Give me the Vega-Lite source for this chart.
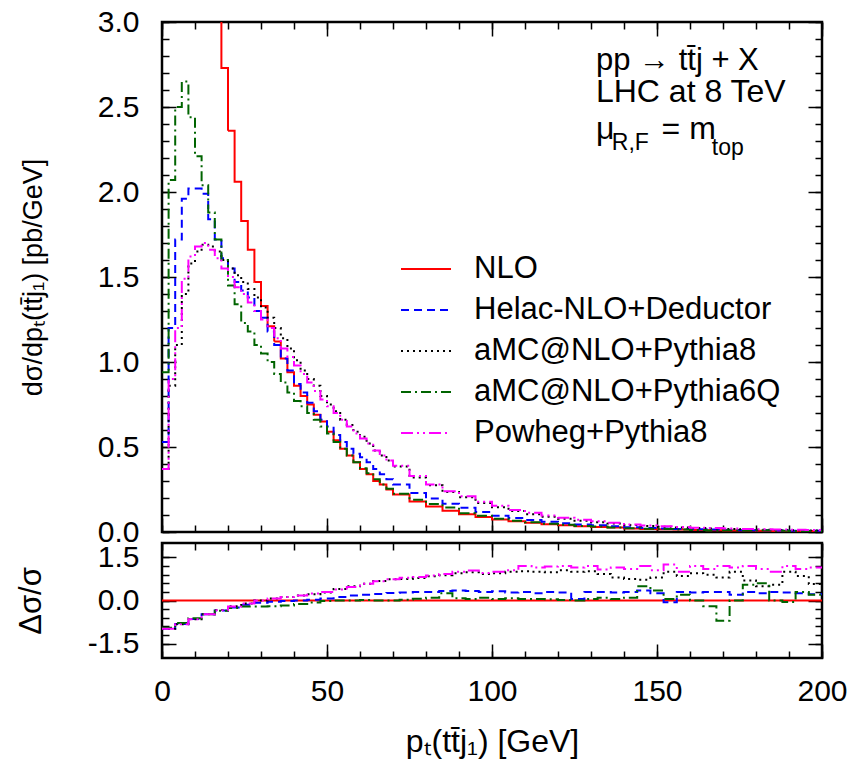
{
  "$schema": "https://vega.github.io/schema/vega-lite/v6.json",
  "padding": {"left": 14, "top": 5, "right": 5, "bottom": 0},
  "spacing": 11,
  "bounds": "flush",
  "config": {
    "font": "Liberation Sans",
    "view": {"stroke": "black", "strokeWidth": 2.5},
    "axis": {"domain": false, "grid": false, "tickColor": "black", "tickWidth": 1.5, "labelColor": "black", "labelFontSize": 30, "labelFont": "Liberation Sans", "titleFont": "Liberation Sans", "titleFontSize": 31, "titleFontWeight": "normal", "titleColor": "black", "labelFlush": false},
    "legend": {"labelFont": "Liberation Sans", "labelFontSize": 31, "labelColor": "black", "symbolType": "stroke", "symbolSize": 2500, "symbolStrokeWidth": 2, "labelOffset": 22, "rowPadding": 0, "padding": 0, "labelLimit": 600}
  },
  "datasets": {
    "main": [
      {"x":0,"NLO":null,"Helac-NLO+Deductor":0.53,"aMC@NLO+Pythia8":0.37,"aMC@NLO+Pythia6Q":0.94,"Powheg+Pythia8":0.37},
      {"x":2,"NLO":null,"Helac-NLO+Deductor":1.20,"aMC@NLO+Pythia8":0.86,"aMC@NLO+Pythia6Q":2.07,"Powheg+Pythia8":0.90},
      {"x":4,"NLO":null,"Helac-NLO+Deductor":1.72,"aMC@NLO+Pythia8":1.10,"aMC@NLO+Pythia6Q":2.50,"Powheg+Pythia8":1.20},
      {"x":6,"NLO":null,"Helac-NLO+Deductor":1.96,"aMC@NLO+Pythia8":1.40,"aMC@NLO+Pythia6Q":2.65,"Powheg+Pythia8":1.49},
      {"x":8,"NLO":null,"Helac-NLO+Deductor":2.02,"aMC@NLO+Pythia8":1.58,"aMC@NLO+Pythia6Q":2.44,"Powheg+Pythia8":1.62},
      {"x":10,"NLO":null,"Helac-NLO+Deductor":2.02,"aMC@NLO+Pythia8":1.65,"aMC@NLO+Pythia6Q":2.21,"Powheg+Pythia8":1.68},
      {"x":12,"NLO":null,"Helac-NLO+Deductor":1.99,"aMC@NLO+Pythia8":1.69,"aMC@NLO+Pythia6Q":2.04,"Powheg+Pythia8":1.70},
      {"x":14,"NLO":null,"Helac-NLO+Deductor":1.84,"aMC@NLO+Pythia8":1.68,"aMC@NLO+Pythia6Q":1.88,"Powheg+Pythia8":1.66},
      {"x":16,"NLO":4.0,"Helac-NLO+Deductor":1.72,"aMC@NLO+Pythia8":1.65,"aMC@NLO+Pythia6Q":1.72,"Powheg+Pythia8":1.61},
      {"x":18,"NLO":2.73,"Helac-NLO+Deductor":1.61,"aMC@NLO+Pythia8":1.60,"aMC@NLO+Pythia6Q":1.60,"Powheg+Pythia8":1.55},
      {"x":20,"NLO":2.36,"Helac-NLO+Deductor":1.55,"aMC@NLO+Pythia8":1.55,"aMC@NLO+Pythia6Q":1.45,"Powheg+Pythia8":1.50},
      {"x":22,"NLO":2.06,"Helac-NLO+Deductor":1.47,"aMC@NLO+Pythia8":1.51,"aMC@NLO+Pythia6Q":1.34,"Powheg+Pythia8":1.44},
      {"x":24,"NLO":1.83,"Helac-NLO+Deductor":1.42,"aMC@NLO+Pythia8":1.47,"aMC@NLO+Pythia6Q":1.23,"Powheg+Pythia8":1.40},
      {"x":26,"NLO":1.66,"Helac-NLO+Deductor":1.38,"aMC@NLO+Pythia8":1.43,"aMC@NLO+Pythia6Q":1.18,"Powheg+Pythia8":1.35},
      {"x":28,"NLO":1.47,"Helac-NLO+Deductor":1.30,"aMC@NLO+Pythia8":1.38,"aMC@NLO+Pythia6Q":1.10,"Powheg+Pythia8":1.30},
      {"x":30,"NLO":1.33,"Helac-NLO+Deductor":1.26,"aMC@NLO+Pythia8":1.32,"aMC@NLO+Pythia6Q":1.05,"Powheg+Pythia8":1.25},
      {"x":32,"NLO":1.21,"Helac-NLO+Deductor":1.18,"aMC@NLO+Pythia8":1.26,"aMC@NLO+Pythia6Q":1.00,"Powheg+Pythia8":1.20},
      {"x":34,"NLO":1.12,"Helac-NLO+Deductor":1.10,"aMC@NLO+Pythia8":1.20,"aMC@NLO+Pythia6Q":0.93,"Powheg+Pythia8":1.14},
      {"x":36,"NLO":1.02,"Helac-NLO+Deductor":1.02,"aMC@NLO+Pythia8":1.14,"aMC@NLO+Pythia6Q":0.88,"Powheg+Pythia8":1.08},
      {"x":38,"NLO":0.94,"Helac-NLO+Deductor":0.95,"aMC@NLO+Pythia8":1.08,"aMC@NLO+Pythia6Q":0.82,"Powheg+Pythia8":1.03},
      {"x":40,"NLO":0.86,"Helac-NLO+Deductor":0.87,"aMC@NLO+Pythia8":1.01,"aMC@NLO+Pythia6Q":0.77,"Powheg+Pythia8":0.98},
      {"x":42,"NLO":0.80,"Helac-NLO+Deductor":0.82,"aMC@NLO+Pythia8":0.95,"aMC@NLO+Pythia6Q":0.74,"Powheg+Pythia8":0.93},
      {"x":44,"NLO":0.75,"Helac-NLO+Deductor":0.76,"aMC@NLO+Pythia8":0.90,"aMC@NLO+Pythia6Q":0.70,"Powheg+Pythia8":0.88},
      {"x":46,"NLO":0.69,"Helac-NLO+Deductor":0.71,"aMC@NLO+Pythia8":0.86,"aMC@NLO+Pythia6Q":0.66,"Powheg+Pythia8":0.83},
      {"x":48,"NLO":0.65,"Helac-NLO+Deductor":0.66,"aMC@NLO+Pythia8":0.80,"aMC@NLO+Pythia6Q":0.62,"Powheg+Pythia8":0.78},
      {"x":50,"NLO":0.59,"Helac-NLO+Deductor":0.62,"aMC@NLO+Pythia8":0.75,"aMC@NLO+Pythia6Q":0.58,"Powheg+Pythia8":0.74},
      {"x":52,"NLO":0.54,"Helac-NLO+Deductor":0.57,"aMC@NLO+Pythia8":0.71,"aMC@NLO+Pythia6Q":0.53,"Powheg+Pythia8":0.70},
      {"x":54,"NLO":0.49,"Helac-NLO+Deductor":0.53,"aMC@NLO+Pythia8":0.66,"aMC@NLO+Pythia6Q":0.49,"Powheg+Pythia8":0.66},
      {"x":56,"NLO":0.45,"Helac-NLO+Deductor":0.49,"aMC@NLO+Pythia8":0.63,"aMC@NLO+Pythia6Q":0.45,"Powheg+Pythia8":0.62},
      {"x":58,"NLO":0.41,"Helac-NLO+Deductor":0.46,"aMC@NLO+Pythia8":0.59,"aMC@NLO+Pythia6Q":0.41,"Powheg+Pythia8":0.58},
      {"x":60,"NLO":0.37,"Helac-NLO+Deductor":0.44,"aMC@NLO+Pythia8":0.56,"aMC@NLO+Pythia6Q":0.375,"Powheg+Pythia8":0.55},
      {"x":62,"NLO":0.34,"Helac-NLO+Deductor":0.41,"aMC@NLO+Pythia8":0.52,"aMC@NLO+Pythia6Q":0.345,"Powheg+Pythia8":0.52},
      {"x":64,"NLO":0.30,"Helac-NLO+Deductor":0.37,"aMC@NLO+Pythia8":0.48,"aMC@NLO+Pythia6Q":0.31,"Powheg+Pythia8":0.48},
      {"x":66,"NLO":0.28,"Helac-NLO+Deductor":0.34,"aMC@NLO+Pythia8":0.45,"aMC@NLO+Pythia6Q":0.28,"Powheg+Pythia8":0.45},
      {"x":68,"NLO":0.25,"Helac-NLO+Deductor":0.31,"aMC@NLO+Pythia8":0.42,"aMC@NLO+Pythia6Q":0.255,"Powheg+Pythia8":0.42},
      {"x":70,"NLO":0.22,"Helac-NLO+Deductor":0.28,"aMC@NLO+Pythia8":0.385,"aMC@NLO+Pythia6Q":0.225,"Powheg+Pythia8":0.39},
      {"x":75,"NLO":0.18,"Helac-NLO+Deductor":0.23,"aMC@NLO+Pythia8":0.32,"aMC@NLO+Pythia6Q":0.19,"Powheg+Pythia8":0.33},
      {"x":80,"NLO":0.15,"Helac-NLO+Deductor":0.197,"aMC@NLO+Pythia8":0.275,"aMC@NLO+Pythia6Q":0.165,"Powheg+Pythia8":0.28},
      {"x":85,"NLO":0.125,"Helac-NLO+Deductor":0.166,"aMC@NLO+Pythia8":0.235,"aMC@NLO+Pythia6Q":0.144,"Powheg+Pythia8":0.24},
      {"x":90,"NLO":0.105,"Helac-NLO+Deductor":0.142,"aMC@NLO+Pythia8":0.205,"aMC@NLO+Pythia6Q":0.11,"Powheg+Pythia8":0.21},
      {"x":95,"NLO":0.088,"Helac-NLO+Deductor":0.117,"aMC@NLO+Pythia8":0.17,"aMC@NLO+Pythia6Q":0.095,"Powheg+Pythia8":0.178},
      {"x":100,"NLO":0.074,"Helac-NLO+Deductor":0.096,"aMC@NLO+Pythia8":0.145,"aMC@NLO+Pythia6Q":0.078,"Powheg+Pythia8":0.155},
      {"x":105,"NLO":0.063,"Helac-NLO+Deductor":0.082,"aMC@NLO+Pythia8":0.123,"aMC@NLO+Pythia6Q":0.066,"Powheg+Pythia8":0.13},
      {"x":110,"NLO":0.054,"Helac-NLO+Deductor":0.07,"aMC@NLO+Pythia8":0.105,"aMC@NLO+Pythia6Q":0.057,"Powheg+Pythia8":0.113},
      {"x":115,"NLO":0.046,"Helac-NLO+Deductor":0.06,"aMC@NLO+Pythia8":0.09,"aMC@NLO+Pythia6Q":0.048,"Powheg+Pythia8":0.097},
      {"x":120,"NLO":0.040,"Helac-NLO+Deductor":0.052,"aMC@NLO+Pythia8":0.078,"aMC@NLO+Pythia6Q":0.043,"Powheg+Pythia8":0.084},
      {"x":125,"NLO":0.034,"Helac-NLO+Deductor":0.044,"aMC@NLO+Pythia8":0.066,"aMC@NLO+Pythia6Q":0.036,"Powheg+Pythia8":0.072},
      {"x":130,"NLO":0.030,"Helac-NLO+Deductor":0.039,"aMC@NLO+Pythia8":0.058,"aMC@NLO+Pythia6Q":0.032,"Powheg+Pythia8":0.063},
      {"x":135,"NLO":0.026,"Helac-NLO+Deductor":0.034,"aMC@NLO+Pythia8":0.050,"aMC@NLO+Pythia6Q":0.027,"Powheg+Pythia8":0.055},
      {"x":140,"NLO":0.021,"Helac-NLO+Deductor":0.028,"aMC@NLO+Pythia8":0.041,"aMC@NLO+Pythia6Q":0.022,"Powheg+Pythia8":0.044},
      {"x":145,"NLO":0.018,"Helac-NLO+Deductor":0.024,"aMC@NLO+Pythia8":0.035,"aMC@NLO+Pythia6Q":0.019,"Powheg+Pythia8":0.038},
      {"x":150,"NLO":0.016,"Helac-NLO+Deductor":0.021,"aMC@NLO+Pythia8":0.031,"aMC@NLO+Pythia6Q":0.017,"Powheg+Pythia8":0.034},
      {"x":155,"NLO":0.014,"Helac-NLO+Deductor":0.018,"aMC@NLO+Pythia8":0.027,"aMC@NLO+Pythia6Q":0.015,"Powheg+Pythia8":0.030},
      {"x":160,"NLO":0.012,"Helac-NLO+Deductor":0.016,"aMC@NLO+Pythia8":0.023,"aMC@NLO+Pythia6Q":0.012,"Powheg+Pythia8":0.025},
      {"x":165,"NLO":0.011,"Helac-NLO+Deductor":0.014,"aMC@NLO+Pythia8":0.021,"aMC@NLO+Pythia6Q":0.009,"Powheg+Pythia8":0.023},
      {"x":170,"NLO":0.0095,"Helac-NLO+Deductor":0.012,"aMC@NLO+Pythia8":0.018,"aMC@NLO+Pythia6Q":0.010,"Powheg+Pythia8":0.020},
      {"x":175,"NLO":0.0085,"Helac-NLO+Deductor":0.011,"aMC@NLO+Pythia8":0.016,"aMC@NLO+Pythia6Q":0.009,"Powheg+Pythia8":0.018},
      {"x":180,"NLO":0.0075,"Helac-NLO+Deductor":0.010,"aMC@NLO+Pythia8":0.013,"aMC@NLO+Pythia6Q":0.011,"Powheg+Pythia8":0.016},
      {"x":185,"NLO":0.0065,"Helac-NLO+Deductor":0.0085,"aMC@NLO+Pythia8":0.012,"aMC@NLO+Pythia6Q":0.007,"Powheg+Pythia8":0.014},
      {"x":190,"NLO":0.006,"Helac-NLO+Deductor":0.0078,"aMC@NLO+Pythia8":0.010,"aMC@NLO+Pythia6Q":0.0065,"Powheg+Pythia8":0.013},
      {"x":195,"NLO":0.0055,"Helac-NLO+Deductor":0.007,"aMC@NLO+Pythia8":0.0088,"aMC@NLO+Pythia6Q":0.006,"Powheg+Pythia8":0.012},
      {"x":200,"NLO":0.0055,"Helac-NLO+Deductor":0.007,"aMC@NLO+Pythia8":0.0088,"aMC@NLO+Pythia6Q":0.006,"Powheg+Pythia8":0.012}
    ],
    "ratio": [
      {"x":0,"Helac-NLO+Deductor":-0.98,"aMC@NLO+Pythia8":-0.98,"aMC@NLO+Pythia6Q":-0.95,"Powheg+Pythia8":-0.98},
      {"x":4,"Helac-NLO+Deductor":-0.82,"aMC@NLO+Pythia8":-0.83,"aMC@NLO+Pythia6Q":-0.78,"Powheg+Pythia8":-0.83},
      {"x":8,"Helac-NLO+Deductor":-0.64,"aMC@NLO+Pythia8":-0.65,"aMC@NLO+Pythia6Q":-0.62,"Powheg+Pythia8":-0.65},
      {"x":12,"Helac-NLO+Deductor":-0.48,"aMC@NLO+Pythia8":-0.48,"aMC@NLO+Pythia6Q":-0.48,"Powheg+Pythia8":-0.48},
      {"x":16,"Helac-NLO+Deductor":-0.35,"aMC@NLO+Pythia8":-0.33,"aMC@NLO+Pythia6Q":-0.36,"Powheg+Pythia8":-0.34},
      {"x":20,"Helac-NLO+Deductor":-0.24,"aMC@NLO+Pythia8":-0.20,"aMC@NLO+Pythia6Q":-0.26,"Powheg+Pythia8":-0.21},
      {"x":24,"Helac-NLO+Deductor":-0.15,"aMC@NLO+Pythia8":-0.10,"aMC@NLO+Pythia6Q":-0.21,"Powheg+Pythia8":-0.10},
      {"x":28,"Helac-NLO+Deductor":-0.08,"aMC@NLO+Pythia8":0.0,"aMC@NLO+Pythia6Q":-0.21,"Powheg+Pythia8":0.0},
      {"x":32,"Helac-NLO+Deductor":-0.04,"aMC@NLO+Pythia8":0.07,"aMC@NLO+Pythia6Q":-0.20,"Powheg+Pythia8":0.07},
      {"x":36,"Helac-NLO+Deductor":-0.02,"aMC@NLO+Pythia8":0.12,"aMC@NLO+Pythia6Q":-0.17,"Powheg+Pythia8":0.12},
      {"x":40,"Helac-NLO+Deductor":0.0,"aMC@NLO+Pythia8":0.17,"aMC@NLO+Pythia6Q":-0.12,"Powheg+Pythia8":0.17},
      {"x":44,"Helac-NLO+Deductor":0.03,"aMC@NLO+Pythia8":0.22,"aMC@NLO+Pythia6Q":-0.07,"Powheg+Pythia8":0.24},
      {"x":48,"Helac-NLO+Deductor":0.07,"aMC@NLO+Pythia8":0.28,"aMC@NLO+Pythia6Q":-0.02,"Powheg+Pythia8":0.30},
      {"x":52,"Helac-NLO+Deductor":0.12,"aMC@NLO+Pythia8":0.40,"aMC@NLO+Pythia6Q":0.0,"Powheg+Pythia8":0.38},
      {"x":56,"Helac-NLO+Deductor":0.17,"aMC@NLO+Pythia8":0.50,"aMC@NLO+Pythia6Q":0.0,"Powheg+Pythia8":0.47},
      {"x":60,"Helac-NLO+Deductor":0.20,"aMC@NLO+Pythia8":0.58,"aMC@NLO+Pythia6Q":0.02,"Powheg+Pythia8":0.58},
      {"x":64,"Helac-NLO+Deductor":0.23,"aMC@NLO+Pythia8":0.68,"aMC@NLO+Pythia6Q":0.0,"Powheg+Pythia8":0.67},
      {"x":68,"Helac-NLO+Deductor":0.26,"aMC@NLO+Pythia8":0.74,"aMC@NLO+Pythia6Q":0.0,"Powheg+Pythia8":0.74},
      {"x":72,"Helac-NLO+Deductor":0.28,"aMC@NLO+Pythia8":0.75,"aMC@NLO+Pythia6Q":0.03,"Powheg+Pythia8":0.79},
      {"x":76,"Helac-NLO+Deductor":0.30,"aMC@NLO+Pythia8":0.78,"aMC@NLO+Pythia6Q":0.06,"Powheg+Pythia8":0.82},
      {"x":80,"Helac-NLO+Deductor":0.30,"aMC@NLO+Pythia8":0.84,"aMC@NLO+Pythia6Q":0.10,"Powheg+Pythia8":0.87},
      {"x":84,"Helac-NLO+Deductor":0.33,"aMC@NLO+Pythia8":0.88,"aMC@NLO+Pythia6Q":0.25,"Powheg+Pythia8":0.92},
      {"x":88,"Helac-NLO+Deductor":0.35,"aMC@NLO+Pythia8":0.95,"aMC@NLO+Pythia6Q":0.08,"Powheg+Pythia8":1.0},
      {"x":92,"Helac-NLO+Deductor":0.33,"aMC@NLO+Pythia8":0.98,"aMC@NLO+Pythia6Q":0.05,"Powheg+Pythia8":1.04},
      {"x":96,"Helac-NLO+Deductor":0.30,"aMC@NLO+Pythia8":0.92,"aMC@NLO+Pythia6Q":0.10,"Powheg+Pythia8":0.96},
      {"x":100,"Helac-NLO+Deductor":0.32,"aMC@NLO+Pythia8":0.95,"aMC@NLO+Pythia6Q":0.05,"Powheg+Pythia8":1.0},
      {"x":104,"Helac-NLO+Deductor":0.28,"aMC@NLO+Pythia8":1.0,"aMC@NLO+Pythia6Q":0.08,"Powheg+Pythia8":1.05},
      {"x":108,"Helac-NLO+Deductor":0.30,"aMC@NLO+Pythia8":1.02,"aMC@NLO+Pythia6Q":0.05,"Powheg+Pythia8":1.2},
      {"x":112,"Helac-NLO+Deductor":0.25,"aMC@NLO+Pythia8":1.0,"aMC@NLO+Pythia6Q":0.05,"Powheg+Pythia8":1.15},
      {"x":116,"Helac-NLO+Deductor":0.30,"aMC@NLO+Pythia8":0.98,"aMC@NLO+Pythia6Q":0.04,"Powheg+Pythia8":1.18},
      {"x":120,"Helac-NLO+Deductor":0.28,"aMC@NLO+Pythia8":1.05,"aMC@NLO+Pythia6Q":0.02,"Powheg+Pythia8":1.2},
      {"x":124,"Helac-NLO+Deductor":0.05,"aMC@NLO+Pythia8":1.0,"aMC@NLO+Pythia6Q":0.0,"Powheg+Pythia8":1.15},
      {"x":128,"Helac-NLO+Deductor":0.30,"aMC@NLO+Pythia8":1.02,"aMC@NLO+Pythia6Q":0.05,"Powheg+Pythia8":1.2},
      {"x":132,"Helac-NLO+Deductor":0.30,"aMC@NLO+Pythia8":0.92,"aMC@NLO+Pythia6Q":0.10,"Powheg+Pythia8":1.08},
      {"x":136,"Helac-NLO+Deductor":0.28,"aMC@NLO+Pythia8":0.80,"aMC@NLO+Pythia6Q":0.05,"Powheg+Pythia8":1.15},
      {"x":140,"Helac-NLO+Deductor":0.30,"aMC@NLO+Pythia8":0.75,"aMC@NLO+Pythia6Q":0.10,"Powheg+Pythia8":1.1},
      {"x":144,"Helac-NLO+Deductor":0.35,"aMC@NLO+Pythia8":0.72,"aMC@NLO+Pythia6Q":0.50,"Powheg+Pythia8":1.2},
      {"x":148,"Helac-NLO+Deductor":0.25,"aMC@NLO+Pythia8":0.80,"aMC@NLO+Pythia6Q":0.35,"Powheg+Pythia8":1.05},
      {"x":152,"Helac-NLO+Deductor":-0.06,"aMC@NLO+Pythia8":1.0,"aMC@NLO+Pythia6Q":0.05,"Powheg+Pythia8":1.25},
      {"x":156,"Helac-NLO+Deductor":0.30,"aMC@NLO+Pythia8":0.85,"aMC@NLO+Pythia6Q":0.20,"Powheg+Pythia8":1.0},
      {"x":160,"Helac-NLO+Deductor":0.28,"aMC@NLO+Pythia8":0.95,"aMC@NLO+Pythia6Q":0.0,"Powheg+Pythia8":1.2},
      {"x":164,"Helac-NLO+Deductor":0.30,"aMC@NLO+Pythia8":0.9,"aMC@NLO+Pythia6Q":-0.2,"Powheg+Pythia8":1.1},
      {"x":168,"Helac-NLO+Deductor":0.30,"aMC@NLO+Pythia8":0.8,"aMC@NLO+Pythia6Q":-0.7,"Powheg+Pythia8":1.2},
      {"x":172,"Helac-NLO+Deductor":0.20,"aMC@NLO+Pythia8":1.0,"aMC@NLO+Pythia6Q":0.0,"Powheg+Pythia8":1.15},
      {"x":176,"Helac-NLO+Deductor":0.30,"aMC@NLO+Pythia8":0.7,"aMC@NLO+Pythia6Q":0.55,"Powheg+Pythia8":1.2},
      {"x":180,"Helac-NLO+Deductor":0.25,"aMC@NLO+Pythia8":0.5,"aMC@NLO+Pythia6Q":0.6,"Powheg+Pythia8":1.1},
      {"x":184,"Helac-NLO+Deductor":0.30,"aMC@NLO+Pythia8":0.55,"aMC@NLO+Pythia6Q":0.0,"Powheg+Pythia8":1.0},
      {"x":188,"Helac-NLO+Deductor":0.28,"aMC@NLO+Pythia8":1.0,"aMC@NLO+Pythia6Q":-0.05,"Powheg+Pythia8":1.2},
      {"x":192,"Helac-NLO+Deductor":0.25,"aMC@NLO+Pythia8":0.85,"aMC@NLO+Pythia6Q":0.3,"Powheg+Pythia8":1.1},
      {"x":196,"Helac-NLO+Deductor":0.22,"aMC@NLO+Pythia8":0.57,"aMC@NLO+Pythia6Q":0.2,"Powheg+Pythia8":1.15},
      {"x":200,"Helac-NLO+Deductor":0.22,"aMC@NLO+Pythia8":0.57,"aMC@NLO+Pythia6Q":0.2,"Powheg+Pythia8":1.15}
    ]
  },
  "resolve": {"legend": {"color": "independent", "strokeDash": "independent"}},
  "vconcat": [
    {
      "width": 660,
      "height": 510,
      "resolve": {"axis": {"x": "independent", "y": "independent"}},
      "layer": [
        {
          "data": {"name": "main"},
          "transform": [{"fold": ["NLO", "Helac-NLO+Deductor", "aMC@NLO+Pythia8", "aMC@NLO+Pythia6Q", "Powheg+Pythia8"], "as": ["series", "val"]}],
          "mark": {"type": "line", "interpolate": "step-after", "strokeWidth": 2, "clip": true},
          "encoding": {
            "x": {"field": "x", "type": "quantitative", "scale": {"domain": [0, 200], "nice": false}, "axis": {"orient": "bottom", "values": [0,10,20,30,40,50,60,70,80,90,100,110,120,130,140,150,160,170,180,190,200], "labels": false, "tickSize": -7, "title": null}},
            "y": {"field": "val", "type": "quantitative", "scale": {"domain": [0, 3], "nice": false}, "axis": {"orient": "left", "values": [0,0.1,0.2,0.3,0.4,0.5,0.6,0.7,0.8,0.9,1,1.1,1.2,1.3,1.4,1.5,1.6,1.7,1.8,1.9,2,2.1,2.2,2.3,2.4,2.5,2.6,2.7,2.8,2.9,3], "labels": false, "tickSize": -7, "title": null}},
            "color": {"field": "series", "type": "nominal", "scale": {"domain": ["NLO", "Helac-NLO+Deductor", "aMC@NLO+Pythia8", "aMC@NLO+Pythia6Q", "Powheg+Pythia8"], "range": ["#ff0000", "#0000ff", "#000000", "#006400", "#ff00ff"]}, "legend": {"title": null, "orient": "none", "legendX": 238, "legendY": 221}},
            "strokeDash": {"field": "series", "type": "nominal", "scale": {"domain": ["NLO", "Helac-NLO+Deductor", "aMC@NLO+Pythia8", "aMC@NLO+Pythia6Q", "Powheg+Pythia8"], "range": [[1, 0], [8, 5], [2, 4], [10, 4, 2, 4], [12, 4, 2, 4, 2, 4]]}, "legend": {"title": null, "orient": "none", "legendX": 238, "legendY": 221}}
          }
        },
        {
          "data": {"values": [{}]},
          "mark": {"type": "text", "align": "left", "baseline": "alphabetic", "fontSize": 31, "font": "Liberation Sans", "color": "black"},
          "encoding": {
            "x": {"datum": 131.5, "type": "quantitative", "axis": {"orient": "bottom", "values": [0, 50, 100, 150, 200], "labels": false, "tickSize": -14, "title": null}},
            "y": {"datum": 2.72, "type": "quantitative", "axis": {"orient": "left", "values": [0, 0.5, 1, 1.5, 2, 2.5, 3], "tickSize": -14, "labelPadding": 37, "format": ".1f", "titlePadding": 50, "titleFontSize": 27, "title": "dσ/dpₜ(tt̄j₁) [pb/GeV]"}},
            "text": {"value": "pp → tt̄j + X"}
          }
        },
        {
          "data": {"values": [{}]},
          "mark": {"type": "text", "align": "left", "baseline": "alphabetic", "fontSize": 32, "font": "Liberation Sans", "color": "black"},
          "encoding": {
            "x": {"datum": 131.5, "type": "quantitative", "axis": {"orient": "top", "values": [0,10,20,30,40,50,60,70,80,90,100,110,120,130,140,150,160,170,180,190,200], "labels": false, "tickSize": -7, "title": null}},
            "y": {"datum": 2.53, "type": "quantitative", "axis": {"orient": "right", "values": [0,0.1,0.2,0.3,0.4,0.5,0.6,0.7,0.8,0.9,1,1.1,1.2,1.3,1.4,1.5,1.6,1.7,1.8,1.9,2,2.1,2.2,2.3,2.4,2.5,2.6,2.7,2.8,2.9,3], "labels": false, "tickSize": -7, "title": null}},
            "text": {"value": "LHC at 8 TeV"}
          }
        },
        {
          "data": {"values": [{}]},
          "mark": {"type": "text", "align": "left", "baseline": "alphabetic", "fontSize": 32, "font": "Liberation Sans", "color": "black"},
          "encoding": {
            "x": {"datum": 131.5, "type": "quantitative", "axis": {"orient": "top", "values": [0, 50, 100, 150, 200], "labels": false, "tickSize": -14, "title": null}},
            "y": {"datum": 2.31, "type": "quantitative", "axis": {"orient": "right", "values": [0, 0.5, 1, 1.5, 2, 2.5, 3], "labels": false, "tickSize": -14, "title": null}},
            "text": {"value": "μ"}
          }
        },
        {
          "data": {"values": [{}]},
          "mark": {"type": "text", "align": "left", "baseline": "alphabetic", "fontSize": 23, "font": "Liberation Sans", "color": "black"},
          "encoding": {
            "x": {"datum": 136.3, "type": "quantitative", "axis": null},
            "y": {"datum": 2.25, "type": "quantitative", "axis": null},
            "text": {"value": "R,F"}
          }
        },
        {
          "data": {"values": [{}]},
          "mark": {"type": "text", "align": "left", "baseline": "alphabetic", "fontSize": 32, "font": "Liberation Sans", "color": "black"},
          "encoding": {
            "x": {"datum": 151.4, "type": "quantitative", "axis": null},
            "y": {"datum": 2.31, "type": "quantitative", "axis": null},
            "text": {"value": "= m"}
          }
        },
        {
          "data": {"values": [{}]},
          "mark": {"type": "text", "align": "left", "baseline": "alphabetic", "fontSize": 23, "font": "Liberation Sans", "color": "black"},
          "encoding": {
            "x": {"datum": 166.6, "type": "quantitative", "axis": null},
            "y": {"datum": 2.22, "type": "quantitative", "axis": null},
            "text": {"value": "top"}
          }
        }
      ]
    },
    {
      "width": 660,
      "height": 115,
      "resolve": {"axis": {"x": "independent", "y": "independent"}},
      "layer": [
        {
          "data": {"values": [{}]},
          "mark": {"type": "rule", "color": "#ff0000", "strokeWidth": 2},
          "encoding": {
            "x": {"datum": 0, "type": "quantitative", "scale": {"domain": [0, 200], "nice": false}, "axis": {"orient": "bottom", "values": [0, 50, 100, 150, 200], "tickSize": -14, "labelPadding": 32, "format": "d", "titlePadding": 20, "titleFontSize": 32, "title": "pₜ(tt̄j₁) [GeV]"}},
            "x2": {"datum": 200},
            "y": {"datum": 0, "type": "quantitative", "scale": {"domain": [-2, 2], "nice": false}, "axis": {"orient": "left", "values": [-1.5, 0, 1.5], "tickSize": -14, "labelPadding": 37, "labelExpr": "datum.value < 0 ? '-' + format(-datum.value, '.1f') : format(datum.value, '.1f')", "titlePadding": 40, "title": "Δσ/σ"}}
          }
        },
        {
          "data": {"name": "ratio"},
          "transform": [{"fold": ["Helac-NLO+Deductor", "aMC@NLO+Pythia8", "aMC@NLO+Pythia6Q", "Powheg+Pythia8"], "as": ["series", "val"]}],
          "mark": {"type": "line", "interpolate": "step-after", "strokeWidth": 2, "clip": true},
          "encoding": {
            "x": {"field": "x", "type": "quantitative", "axis": {"orient": "bottom", "values": [0,10,20,30,40,50,60,70,80,90,100,110,120,130,140,150,160,170,180,190,200], "labels": false, "tickSize": -7, "title": null}},
            "y": {"field": "val", "type": "quantitative", "axis": {"orient": "left", "values": [-1.5,-1.2,-0.9,-0.6,-0.3,0,0.3,0.6,0.9,1.2,1.5], "labels": false, "tickSize": -7, "title": null}},
            "color": {"field": "series", "type": "nominal", "scale": {"domain": ["NLO", "Helac-NLO+Deductor", "aMC@NLO+Pythia8", "aMC@NLO+Pythia6Q", "Powheg+Pythia8"], "range": ["#ff0000", "#0000ff", "#000000", "#006400", "#ff00ff"]}, "legend": null},
            "strokeDash": {"field": "series", "type": "nominal", "scale": {"domain": ["NLO", "Helac-NLO+Deductor", "aMC@NLO+Pythia8", "aMC@NLO+Pythia6Q", "Powheg+Pythia8"], "range": [[1, 0], [8, 5], [2, 4], [10, 4, 2, 4], [12, 4, 2, 4, 2, 4]]}, "legend": null}
          }
        },
        {
          "data": {"values": [{}]},
          "mark": {"type": "rule", "strokeOpacity": 0},
          "encoding": {
            "x": {"datum": 0, "type": "quantitative", "axis": {"orient": "top", "values": [0,10,20,30,40,50,60,70,80,90,100,110,120,130,140,150,160,170,180,190,200], "labels": false, "tickSize": -7, "title": null}},
            "x2": {"datum": 200},
            "y": {"datum": 0, "type": "quantitative", "axis": {"orient": "right", "values": [-1.5,-1.2,-0.9,-0.6,-0.3,0,0.3,0.6,0.9,1.2,1.5], "labels": false, "tickSize": -7, "title": null}}
          }
        },
        {
          "data": {"values": [{}]},
          "mark": {"type": "rule", "strokeOpacity": 0},
          "encoding": {
            "x": {"datum": 0, "type": "quantitative", "axis": {"orient": "top", "values": [0, 50, 100, 150, 200], "labels": false, "tickSize": -14, "title": null}},
            "x2": {"datum": 200},
            "y": {"datum": 0, "type": "quantitative", "axis": {"orient": "right", "values": [-1.5, 0, 1.5], "labels": false, "tickSize": -14, "title": null}}
          }
        }
      ]
    }
  ]
}
